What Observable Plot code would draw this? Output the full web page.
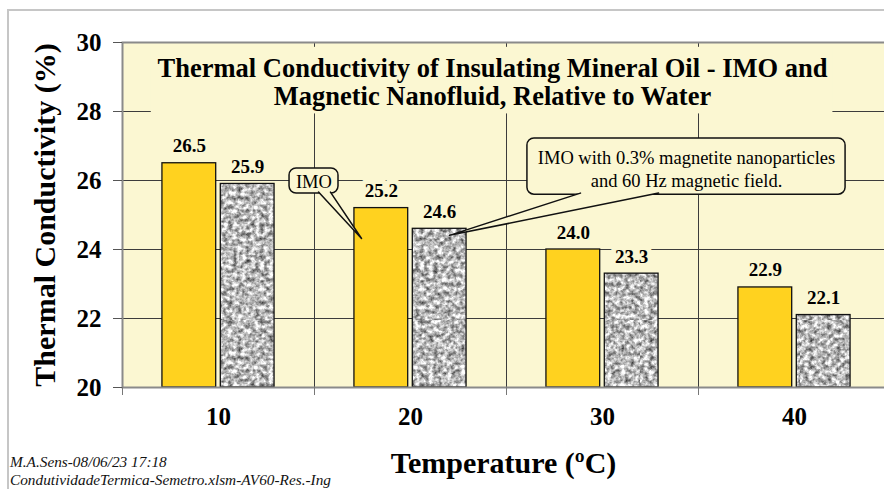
<!DOCTYPE html>
<html>
<head>
<meta charset="utf-8">
<script src="https://cdn.jsdelivr.net/npm/d3@7"></script>
<script src="https://cdn.jsdelivr.net/npm/@observablehq/plot@0.6"></script>
<style>
  html, body { margin: 0; padding: 0; background: #fff; overflow: hidden; width: 884px; height: 489px; }
  #wrap { position: relative; width: 884px; height: 489px; overflow: hidden; }
  #border { position: absolute; left: 7px; top: 9px; width: 900px; height: 500px;
            border-top: 2px solid #c6c6c6; border-left: 2px solid #c6c6c6; }
  #chart { position: absolute; left: 0; top: 0; }
  #chart svg { max-width: none !important; overflow: visible; }
  #chart svg text { font-family: "Liberation Serif", "Times New Roman", serif; }
  #caption { position: absolute; left: 10px; top: 453px; font-family: "Liberation Serif", "Times New Roman", serif;
             font-style: italic; font-size: 15.3px; line-height: 18px; color: #111; white-space: nowrap; }
</style>
</head>
<body>
<svg width="0" height="0" style="position:absolute">
  <defs>
    <filter id="granNoise" x="0" y="0" width="100%" height="100%" color-interpolation-filters="sRGB">
      <feTurbulence type="fractalNoise" baseFrequency="0.22" numOctaves="3" seed="11" result="n"/>
      <feColorMatrix in="n" type="matrix"
        values="1.25 0 0 0 0.1  1.25 0 0 0 0.1  1.25 0 0 0 0.1  0 0 0 0 1"/>
    </filter>
    <pattern id="granite" patternUnits="userSpaceOnUse" width="160" height="160">
      <rect width="160" height="160" fill="#ccc" filter="url(#granNoise)"/>
    </pattern>
  </defs>
</svg>
<div id="wrap">
  <div id="border"></div>
  <div id="chart"></div>
  <div id="caption">M.A.Sens-08/06/23 17:18<br>CondutividadeTermica-Semetro.xlsm-AV60-Res.-Ing</div>
</div>
<script>
// ---- data ----
const temperatures = [10, 20, 30, 40];
const imoValues = [26.5, 25.2, 24.0, 22.9];
const nanoValues = [25.9, 24.6, 23.3, 22.1];
const yTicks = [20, 22, 24, 26, 28, 30];
const categoryEdges = [15, 25, 35];
const seriesNames = ["IMO", "IMO with 0.3% magnetite nanoparticles\nand 60 Hz magnetic field."];
const chartTitle = "Thermal Conductivity of Insulating Mineral Oil - IMO and\nMagnetic Nanofluid, Relative to Water";
const yLabel = "Thermal Conductivity (%)";
const xLabel = "Temperature (ºC)";

// annotation anchors in data units (temperature, %)
const titleBox = [{x1: 6.5, x2: 42.0, y1: 27.93, y2: 29.86}];
const titleAnchor = [{x: 24.27, y: 28.85}];
const calloutBoxes = [
  {x1: 13.7, x2: 16.25, y1: 25.62, y2: 26.35},
  {x1: 26.09, x2: 42.66, y1: 25.59, y2: 27.22}
];
const calloutTexts = [
  {x: 14.97, y: 25.99, text: seriesNames[0]},
  {x: 34.375, y: 26.36, text: seriesNames[1]}
];
const calloutPointers = [
  {id: 0, x: 15.21, y: 25.665}, {id: 0, x: 17.45, y: 24.32}, {id: 0, x: 15.83, y: 25.665},
  {id: 1, x: 28.85, y: 25.635}, {id: 1, x: 22.03, y: 24.41}, {id: 1, x: 32.92, y: 25.635}
];

// ---- style constants ----
const BG = "#FBF7D2";
const YELLOW = "#FFD21F";
const GRID = "#3c3c3c";
const AXIS = "#8a8a8a";
const SERIF = "Liberation Serif, Times New Roman, serif";
const BAR_W = 2.8;     // bar width in temperature units
const HALF_GAP = 0.12; // half the gap between paired bars

const imoRows = temperatures.map((t, i) => ({t, v: imoValues[i]}));
const nanoRows = temperatures.map((t, i) => ({t, v: nanoValues[i]}));

const labelOpts = {
  y: "v", text: d => d.v.toFixed(1), lineAnchor: "bottom", dy: -11,
  fontSize: 19, fontWeight: "bold", fontFamily: SERIF, fill: "#000",
  stroke: BG, strokeWidth: 10, strokeLinejoin: "round", paintOrder: "stroke"
};

const chart = Plot.plot({
  width: 890,
  height: 489,
  marginLeft: 122,
  marginRight: 0,
  marginTop: 42,
  marginBottom: 102,
  style: {fontFamily: SERIF, fontSize: "18px", color: "#000", background: "transparent"},
  x: {type: "linear", domain: [5, 45]},
  y: {domain: [20, 30]},
  marks: [
    Plot.frame({fill: BG}),
    Plot.gridY([22, 24, 26, 28], {stroke: GRID, strokeOpacity: 1, strokeWidth: 1}),
    Plot.gridX(categoryEdges, {stroke: GRID, strokeOpacity: 1, strokeWidth: 1}),
    Plot.rect(imoRows, {
      x1: d => d.t - HALF_GAP - BAR_W, x2: d => d.t - HALF_GAP, y1: 20, y2: "v",
      fill: YELLOW, stroke: "#111", strokeWidth: 1.3
    }),
    Plot.rect(nanoRows, {
      x1: d => d.t + HALF_GAP, x2: d => d.t + HALF_GAP + BAR_W, y1: 20, y2: "v",
      fill: "url(#granite)", stroke: "#111", strokeWidth: 1.3
    }),
    Plot.text(imoRows, {...labelOpts, x: d => d.t - HALF_GAP - BAR_W / 2}),
    Plot.text(nanoRows, {...labelOpts, x: d => d.t + HALF_GAP + BAR_W / 2}),
    // title
    Plot.rect(titleBox, {x1: "x1", x2: "x2", y1: "y1", y2: "y2", fill: BG}),
    Plot.text(titleAnchor, {x: "x", y: "y", text: () => chartTitle, fontSize: 26.5, fontWeight: "bold",
      fontFamily: SERIF, lineHeight: 1.06, lineAnchor: "middle"}),
    // callouts
    Plot.rect(calloutBoxes, {x1: "x1", x2: "x2", y1: "y1", y2: "y2", rx: 7, fill: BG, stroke: "#111", strokeWidth: 1.5}),
    Plot.line(calloutPointers, {x: "x", y: "y", z: "id", fill: BG, stroke: "#111", strokeWidth: 1.5, curve: "linear"}),
    Plot.text(calloutTexts, {x: "x", y: "y", text: "text", fontSize: 18.5, fontFamily: SERIF,
      lineHeight: 1.25, lineAnchor: "middle"}),
    // axes
    Plot.frame({stroke: AXIS, strokeWidth: 2}),
    Plot.axisY(yTicks, {tickSize: 9, tickPadding: 12, fontSize: 25, fontWeight: "bold", fontFamily: SERIF,
      stroke: "#555", label: null}),
    Plot.axisX(temperatures, {tickSize: 0, tickPadding: 20, fontSize: 25, fontWeight: "bold", fontFamily: SERIF,
      label: null}),
    Plot.axisX([5, ...categoryEdges], {tickSize: 8, tickFormat: () => "", stroke: "#777", label: null}),
    Plot.text([yLabel], {frameAnchor: "left", textAnchor: "middle", text: d => d, rotate: -90, dx: -77,
      fontSize: 30, fontWeight: "bold", fontFamily: SERIF}),
    Plot.text([xLabel], {frameAnchor: "bottom", textAnchor: "middle", text: d => d, dx: -3, dy: 85,
      fontSize: 30, fontWeight: "bold", fontFamily: SERIF})
  ]
});
document.getElementById("chart").appendChild(chart);
</script>
</body>
</html>
